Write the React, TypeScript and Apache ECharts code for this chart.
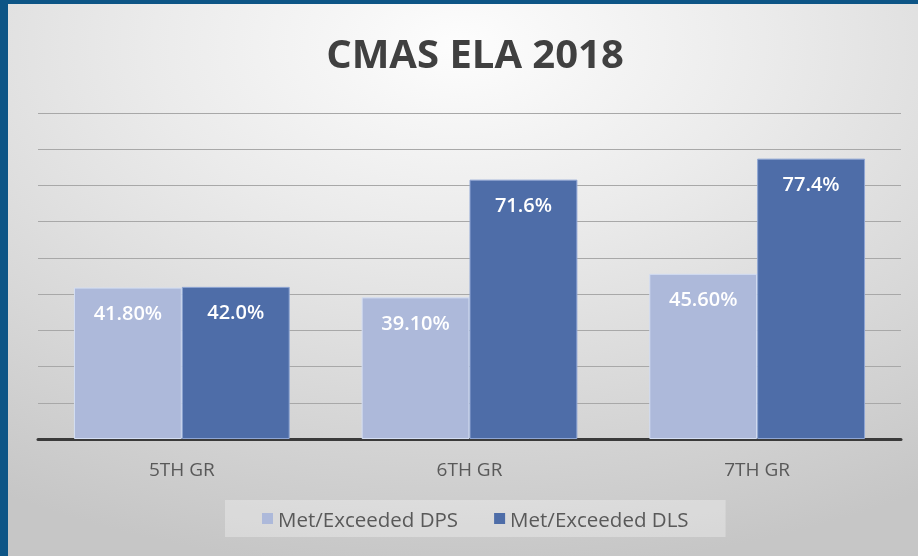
import React, { useEffect, useRef } from "react";
import * as echarts from "echarts";

const categories = ["5TH GR", "6TH GR", "7TH GR"];
const dpsValues = [41.8, 39.1, 45.6];
const dlsValues = [42.0, 71.6, 77.4];
const seriesNames = ["Met/Exceeded DPS", "Met/Exceeded DLS"];
const titleText = "CMAS ELA 2018";

export default function App() {
  const ref = useRef<HTMLDivElement>(null);
  useEffect(() => {
    if (!ref.current) return;
    const chart = echarts.init(ref.current, null, { renderer: "svg" });
    const font = "'Open Sans', 'Noto Sans', sans-serif";
    chart.setOption({
      animation: false,
      backgroundColor: {
        type: "radial",
        x: 0.5,
        y: 0.08,
        r: 0.95,
        colorStops: [
          { offset: 0, color: "#fdfdfd" },
          { offset: 0.35, color: "#ebebeb" },
          { offset: 1, color: "#c6c6c6" },
        ],
      },
      graphic: [
        { type: "rect", left: 0, top: 0, shape: { width: 8, height: 556 }, style: { fill: "#0d5586" }, z: 100 },
        { type: "rect", left: 0, top: 0, shape: { width: 918, height: 4 }, style: { fill: "#0d5586" }, z: 100 },
      ],
      title: {
        text: titleText,
        left: 470,
        top: 27,
        textAlign: "center",
        textStyle: { fontFamily: font, fontSize: 40, fontWeight: "bold", color: "#404040" },
      },
      legend: {
        data: seriesNames,
        top: 500,
        left: 225,
        icon: "rect",
        itemWidth: 11,
        itemHeight: 11,
        itemGap: 36,
        padding: [8, 37],
        backgroundColor: "rgba(255,255,255,0.3)",
        itemStyle: { borderWidth: 0 },
        textStyle: { fontFamily: font, fontSize: 20.5, color: "#595959" },
      },
      grid: { left: 38, top: 113, width: 863, height: 326, containLabel: false },
      xAxis: {
        type: "category",
        data: categories,
        axisLine: { lineStyle: { color: "#3a3a3a", width: 3 } },
        axisTick: { show: false },
        axisLabel: { margin: 20, fontFamily: font, fontSize: 19, color: "#595959" },
      },
      yAxis: {
        type: "value",
        min: 0,
        max: 90,
        interval: 10,
        axisLabel: { show: false },
        axisLine: { show: false },
        axisTick: { show: false },
        splitLine: { lineStyle: { color: "#a8a8a8", width: 1.2 } },
      },
      series: [
        {
          name: seriesNames[0],
          type: "bar",
          data: dpsValues,
          barGap: "0%",
          barCategoryGap: "25%",
          itemStyle: { color: "#adb9da", borderColor: "#d4def3", borderWidth: 1 },
          label: {
            show: true,
            position: "insideTop",
            distance: 15,
            formatter: (p: any) => p.value.toFixed(2) + "%",
            color: "#ffffff",
            fontFamily: font,
            fontSize: 20,
            fontWeight: 600,
          },
        },
        {
          name: seriesNames[1],
          type: "bar",
          data: dlsValues,
          barGap: "0%",
          barCategoryGap: "25%",
          itemStyle: { color: "#4e6da8", borderColor: "#8fa6d4", borderWidth: 1 },
          label: {
            show: true,
            position: "insideTop",
            distance: 15,
            formatter: (p: any) => p.value.toFixed(1) + "%",
            color: "#ffffff",
            fontFamily: font,
            fontSize: 20,
            fontWeight: 600,
          },
        },
      ],
    });
    return () => chart.dispose();
  }, []);
  return (
    <div
      ref={ref}
      style={{ position: "fixed", left: 0, top: 0, width: 918, height: 556 }}
    />
  );
}
